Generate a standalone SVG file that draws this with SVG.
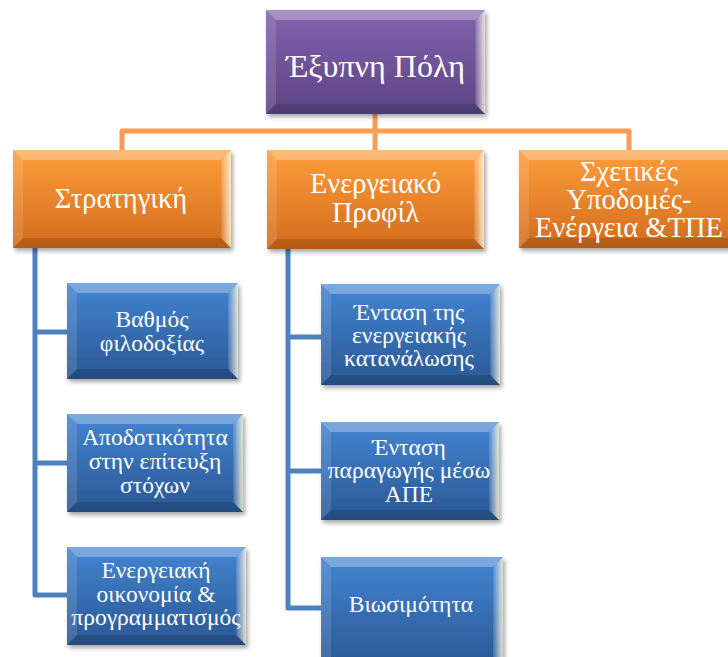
<svg xmlns="http://www.w3.org/2000/svg" width="728" height="657" viewBox="0 0 728 657">
<defs>
<linearGradient id="gPurple" x1="0" y1="0" x2="0" y2="1"><stop offset="0" stop-color="#8163AC"/><stop offset="1" stop-color="#5D4484"/></linearGradient>
<linearGradient id="gOrange" x1="0" y1="0" x2="0" y2="1"><stop offset="0" stop-color="#FE9E3C"/><stop offset="1" stop-color="#D26B1C"/></linearGradient>
<linearGradient id="gBlue" x1="0" y1="0" x2="0" y2="1"><stop offset="0" stop-color="#4384D2"/><stop offset="1" stop-color="#2A5894"/></linearGradient>
<linearGradient id="gRight" x1="0" y1="0" x2="1" y2="0"><stop offset="0" stop-color="#fff" stop-opacity="0.1"/><stop offset="1" stop-color="#FFF8D8" stop-opacity="0.85"/></linearGradient>
<filter id="shadow" x="-10%" y="-10%" width="125%" height="130%"><feDropShadow dx="2" dy="3" stdDeviation="2" flood-color="#000" flood-opacity="0.35"/></filter>
</defs>
<style>
text{font-family:"Liberation Serif","DejaVu Serif",serif;fill:#fff;text-anchor:middle}
.t32{font-size:32px}.t28{font-size:28.5px}.t23{font-size:23.5px}
.bt{fill:#fff;fill-opacity:0.3}.bl{fill:#fff;fill-opacity:0.12}.bb{fill:#000;fill-opacity:0.14}.br{fill:url(#gRight)}
.co{fill:none;stroke:#F89D55;stroke-width:5;stroke-linejoin:round}
.cb{fill:none;stroke:#4F81BD;stroke-width:5;stroke-linejoin:round}
</style>
<rect width="728" height="657" fill="#fff"/>
<g id="connectors">
<path class="co" d="M375,114V150M122,150V131H629V150"/>
<path class="cb" d="M35,248V595H67M35,332H67M35,463H67"/>
<path class="cb" d="M288,249V608H321M288,337H321M288,471H321"/>
</g>
<g id="n-top" transform="translate(266,10)">
<rect width="219" height="104" fill="url(#gPurple)" filter="url(#shadow)"/>
<polygon class="bt" points="0,0 219,0 209,10 10,10"/><polygon class="bl" points="0,0 10,10 10,94 0,104"/><polygon class="br" points="219,0 219,104 209,94 209,10"/><polygon class="bb" points="0,104 219,104 209,94 10,94"/>
<text class="t32" x="109.5" y="67">Έξυπνη Πόλη</text>
</g>
<g id="n-strat" transform="translate(13,150)">
<rect width="218" height="98" fill="url(#gOrange)" filter="url(#shadow)"/>
<polygon class="bt" points="0,0 218,0 208,10 10,10"/><polygon class="bl" points="0,0 10,10 10,88 0,98"/><polygon class="br" points="218,0 218,98 208,88 208,10"/><polygon class="bb" points="0,98 218,98 208,88 10,88"/>
<text class="t28" x="108" y="58">Στρατηγική</text>
</g>
<g id="n-profile" transform="translate(267,150)">
<rect width="217" height="99" fill="url(#gOrange)" filter="url(#shadow)"/>
<polygon class="bt" points="0,0 217,0 207,10 10,10"/><polygon class="bl" points="0,0 10,10 10,89 0,99"/><polygon class="br" points="217,0 217,99 207,89 207,10"/><polygon class="bb" points="0,99 217,99 207,89 10,89"/>
<text class="t28" x="108.5" y="43">Ενεργειακό</text>
<text class="t28" x="108.5" y="72">Προφίλ</text>
</g>
<g id="n-infra" transform="translate(519,150)">
<rect width="220" height="98" fill="url(#gOrange)" filter="url(#shadow)"/>
<polygon class="bt" points="0,0 220,0 210,10 10,10"/><polygon class="bl" points="0,0 10,10 10,88 0,98"/><polygon class="br" points="220,0 220,98 210,88 210,10"/><polygon class="bb" points="0,98 220,98 210,88 10,88"/>
<text class="t28" x="110" y="31">Σχετικές</text>
<text class="t28" x="110" y="59">Υποδομές-</text>
<text class="t28" x="110" y="87">Ενέργεια &amp;ΤΠΕ</text>
</g>
<g id="n-ambition" transform="translate(67,283)">
<rect width="171" height="96" fill="url(#gBlue)" filter="url(#shadow)"/>
<polygon class="bt" points="0,0 171,0 161,10 10,10"/><polygon class="bl" points="0,0 10,10 10,86 0,96"/><polygon class="br" points="171,0 171,96 161,86 161,10"/><polygon class="bb" points="0,96 171,96 161,86 10,86"/>
<text class="t23" x="85" y="44">Βαθμός</text>
<text class="t23" x="85" y="68">φιλοδοξίας</text>
</g>
<g id="n-efficiency" transform="translate(67,414)">
<rect width="176" height="98" fill="url(#gBlue)" filter="url(#shadow)"/>
<polygon class="bt" points="0,0 176,0 166,10 10,10"/><polygon class="bl" points="0,0 10,10 10,88 0,98"/><polygon class="br" points="176,0 176,98 166,88 166,10"/><polygon class="bb" points="0,98 176,98 166,88 10,88"/>
<text class="t23" x="88" y="31">Αποδοτικότητα</text>
<text class="t23" x="88" y="55">στην επίτευξη</text>
<text class="t23" x="88" y="79">στόχων</text>
</g>
<g id="n-economy" transform="translate(67,547)">
<rect width="179" height="98" fill="url(#gBlue)" filter="url(#shadow)"/>
<polygon class="bt" points="0,0 179,0 169,10 10,10"/><polygon class="bl" points="0,0 10,10 10,88 0,98"/><polygon class="br" points="179,0 179,98 169,88 169,10"/><polygon class="bb" points="0,98 179,98 169,88 10,88"/>
<text class="t23" x="89" y="31">Ενεργειακή</text>
<text class="t23" x="89" y="55">οικονομία &amp;</text>
<text class="t23" x="89" y="78">προγραμματισμός</text>
</g>
<g id="n-consumption" transform="translate(321,284)">
<rect width="179" height="101" fill="url(#gBlue)" filter="url(#shadow)"/>
<polygon class="bt" points="0,0 179,0 169,10 10,10"/><polygon class="bl" points="0,0 10,10 10,91 0,101"/><polygon class="br" points="179,0 179,101 169,91 169,10"/><polygon class="bb" points="0,101 179,101 169,91 10,91"/>
<text class="t23" x="88" y="36">Ένταση της</text>
<text class="t23" x="88" y="59">ενεργειακής</text>
<text class="t23" x="88" y="82">κατανάλωσης</text>
</g>
<g id="n-production" transform="translate(321,422)">
<rect width="178" height="98" fill="url(#gBlue)" filter="url(#shadow)"/>
<polygon class="bt" points="0,0 178,0 168,10 10,10"/><polygon class="bl" points="0,0 10,10 10,88 0,98"/><polygon class="br" points="178,0 178,98 168,88 168,10"/><polygon class="bb" points="0,98 178,98 168,88 10,88"/>
<text class="t23" x="88" y="33">Ένταση</text>
<text class="t23" x="88" y="56">παραγωγής μέσω</text>
<text class="t23" x="88" y="80">ΑΠΕ</text>
</g>
<g id="n-sustain" transform="translate(321,557)">
<rect width="182" height="110" fill="url(#gBlue)" filter="url(#shadow)"/>
<polygon class="bt" points="0,0 182,0 172,10 10,10"/><polygon class="bl" points="0,0 10,10 10,100 0,110"/><polygon class="br" points="182,0 182,110 172,100 172,10"/>
<text class="t23" x="90" y="55">Βιωσιμότητα</text>
</g>
</svg>
